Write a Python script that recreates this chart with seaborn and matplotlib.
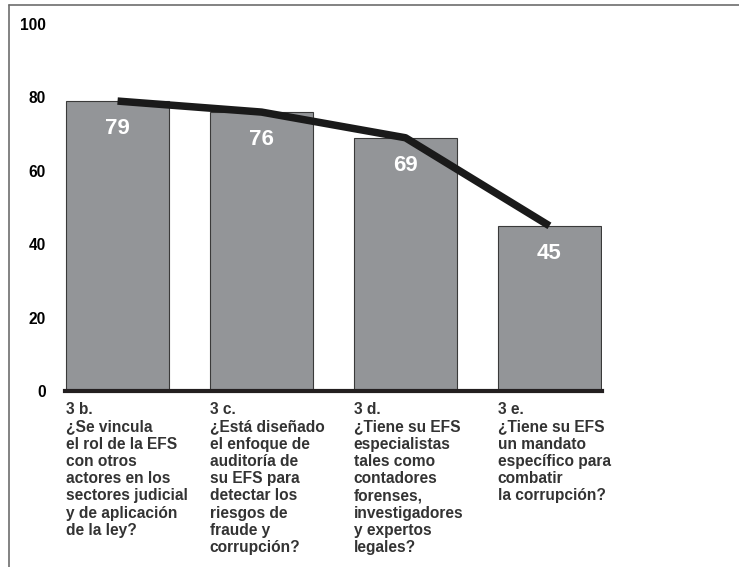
import matplotlib
matplotlib.use("Agg")
import matplotlib.pyplot as plt
import seaborn as sns
import numpy as np
import pandas as pd
from matplotlib.lines import Line2D
from matplotlib.transforms import blended_transform_factory

categories = [
    "3 b.\n¿Se vincula\nel rol de la EFS\ncon otros\nactores en los\nsectores judicial\ny de aplicación\nde la ley?",
    "3 c.\n¿Está diseñado\nel enfoque de\nauditoría de\nsu EFS para\ndetectar los\nriesgos de\nfraude y\ncorrupción?",
    "3 d.\n¿Tiene su EFS\nespecialistas\ntales como\ncontadores\nforenses,\ninvestigadores\ny expertos\nlegales?",
    "3 e.\n¿Tiene su EFS\nun mandato\nespecífico para\ncombatir\nla corrupción?",
]
values = [79, 76, 69, 45]
yticks = [0, 20, 40, 60, 80, 100]

sns.set_style("white")
plt.rcParams["font.family"] = ["Liberation Sans", "DejaVu Sans"]

W, H = 739, 567
fig = plt.figure(figsize=(W / 100, H / 100), dpi=100)
ax = fig.add_axes([65 / W, 1 - 391 / H, (602 - 65) / W, (391 - 24) / H])

df = pd.DataFrame({"cat": [str(i) for i in range(len(values))], "val": values})
sns.barplot(data=df, x="cat", y="val", color="#939598", saturation=1,
            width=0.72, edgecolor="#3a3a3a", linewidth=0.8, ax=ax, zorder=2)
sns.lineplot(x=np.arange(len(values)), y=values, color="#1a1a1a", lw=5.4,
             ax=ax, zorder=4, solid_capstyle="butt")

for i, v in enumerate(values):
    ax.text(i, v - 7.5, str(v), ha="center", va="center", color="white",
            fontsize=16, fontweight="bold", zorder=5)

trans = blended_transform_factory(ax.transData, ax.transAxes)
for i, lab in enumerate(categories):
    ax.text(i - 0.36, -0.03, lab, transform=trans, ha="left", va="top",
            fontsize=11.2, fontweight="bold", color="#333333", linespacing=1.19)

ax.set_xlim(-0.365, 3.365)
ax.set_ylim(0, 100)
ax.set_yticks(yticks)
ax.set_yticklabels([str(t) for t in yticks], fontsize=11.2, fontweight="bold", color="#000000")
ax.tick_params(axis="y", length=0, pad=14)
ax.set_xticks([])
ax.set_xlabel("")
ax.set_ylabel("")
for s in ["top", "right", "left"]:
    ax.spines[s].set_visible(False)
ax.spines["bottom"].set_linewidth(3)
ax.spines["bottom"].set_color("#231f20")
ax.spines["bottom"].set_zorder(6)

# outer frame (left and top)
fig.add_artist(Line2D([8.5 / W, 8.5 / W], [0, 1 - 5 / H], transform=fig.transFigure,
                      color="#6d6d6d", lw=1.2))
fig.add_artist(Line2D([8.5 / W, 1], [1 - 5 / H, 1 - 5 / H], transform=fig.transFigure,
                      color="#6d6d6d", lw=1.2))

fig.savefig("out.png", dpi=100, facecolor="white")
